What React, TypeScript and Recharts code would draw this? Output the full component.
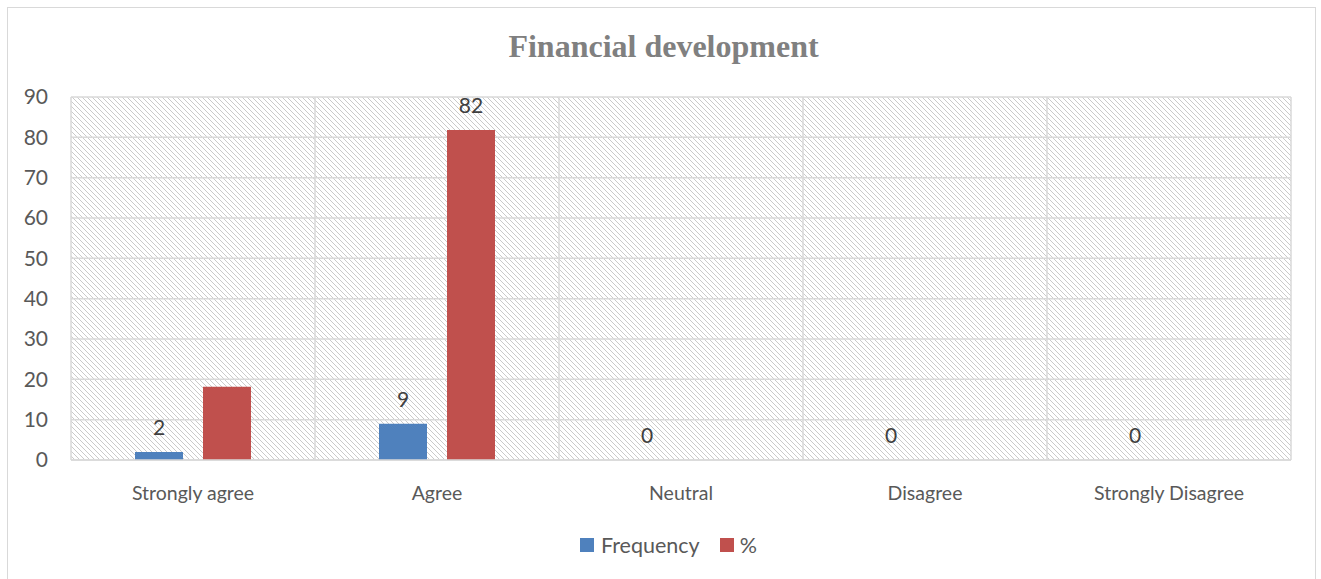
import React from 'react';
import { BarChart, Bar, XAxis, YAxis, CartesianGrid, LabelList } from 'recharts';

const categories = ['Strongly agree', 'Agree', 'Neutral', 'Disagree', 'Strongly Disagree'];
const frequency = [2, 9, 0, 0, 0];
const percent = [18.18, 81.82, 0, 0, 0];
const frequencyLabels = ['2', '9', '0', '0', '0'];
const percentLabels = ['', '82', '', '', ''];
const yTicks = [0, 10, 20, 30, 40, 50, 60, 70, 80, 90];
const title = 'Financial development';

const data = categories.map((c, i) => ({
  name: c,
  freq: frequency[i],
  pct: percent[i],
  freqLabel: frequencyLabels[i],
  pctLabel: percentLabels[i],
}));

const FONT = 'Lato, "Open Sans", sans-serif';
const BLUE = '#4F81BD';
const RED = '#C0504D';

export default function App() {
  return (
    <div style={{ position: 'absolute', left: 0, top: 0, width: 1321, height: 579, background: '#fff', fontFamily: FONT }}>
      <div style={{ position: 'absolute', left: 7, top: 7, width: 1309, height: 600, border: '1px solid #d9d9d9', boxSizing: 'border-box' }} />
      <div style={{ position: 'absolute', left: 0, top: 26, width: 1327, textAlign: 'center', fontFamily: '"Liberation Serif", "Times New Roman", serif', fontWeight: 'bold', fontSize: 32, color: '#808080', lineHeight: '40px' }}>
        {title}
      </div>
      <div style={{ position: 'absolute', left: 0, top: 0 }}>
        <BarChart
          width={1321}
          height={579}
          data={data}
          margin={{ top: 97, right: 30, left: 21, bottom: 79 }}
          barCategoryGap={64}
          barGap={20}
        >
          <defs>
            <pattern id="hatch" patternUnits="userSpaceOnUse" width="5" height="5">
              <rect width="5" height="5" fill="#ffffff" />
              <path d="M-1,-1 L6,6 M4,-1 L6,1 M-1,4 L1,6" stroke="#cacaca" strokeWidth="1" />
            </pattern>
          </defs>
          <CartesianGrid
            stroke="#d9d9d9"
            strokeWidth={1.5}
            fill="url(#hatch)"
            fillOpacity={1}
            verticalCoordinatesGenerator={({ offset }: any) =>
              categories.map((_, i) => offset.left + (i * offset.width) / categories.length).concat([offset.left + offset.width])
            }
          />
          <XAxis
            dataKey="name"
            height={40}
            tickLine={false}
            tickSize={0}
            tickMargin={26}
            axisLine={{ stroke: '#d9d9d9', strokeWidth: 1.5 }}
            tick={{ fill: '#595959', fontSize: 19.5, fontFamily: FONT }}
            interval={0}
          />
          <YAxis
            width={50}
            domain={[0, 90]}
            ticks={yTicks}
            interval={0}
            axisLine={false}
            tickLine={false}
            tickSize={0}
            tickMargin={23}
            tick={{ fill: '#595959', fontSize: 21, fontFamily: FONT }}
          />
          <Bar dataKey="freq" fill={BLUE} barSize={48} minPointSize={0.01} isAnimationActive={false}>
            <LabelList dataKey="freqLabel" position="top" offset={17} fill="#404040" fontSize={21} fontFamily={FONT} />
          </Bar>
          <Bar dataKey="pct" fill={RED} barSize={48} isAnimationActive={false}>
            <LabelList dataKey="pctLabel" position="top" offset={17} fill="#404040" fontSize={21} fontFamily={FONT} />
          </Bar>
        </BarChart>
      </div>
      <div style={{ position: 'absolute', left: 580, top: 532, display: 'flex', alignItems: 'center', fontSize: 21.5, color: '#595959', fontFamily: FONT, lineHeight: '26px' }}>
        <span style={{ display: 'inline-block', width: 14, height: 14, background: BLUE, marginRight: 7 }} />
        <span>Frequency</span>
        <span style={{ display: 'inline-block', width: 14, height: 14, background: RED, marginLeft: 20, marginRight: 6 }} />
        <span>%</span>
      </div>
    </div>
  );
}
